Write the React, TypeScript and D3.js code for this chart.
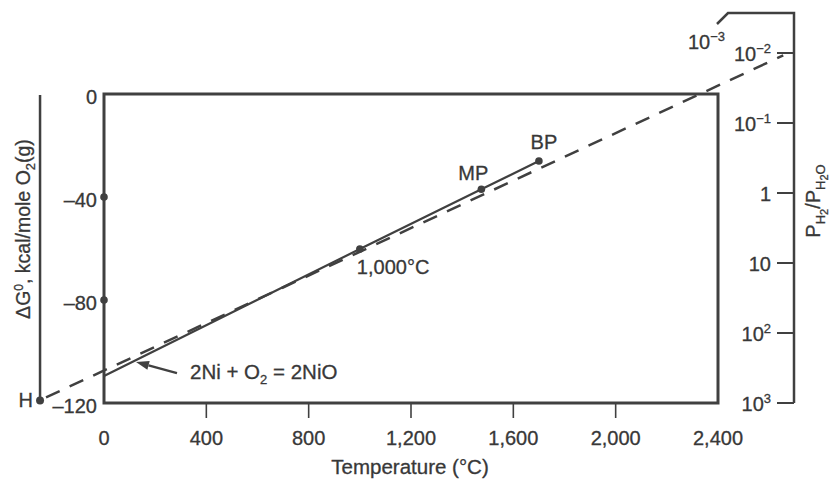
import { useEffect, useRef } from "react";
import * as d3 from "d3";

// temperature axis (°C)
const tempTicks = [0, 400, 800, 1200, 1600, 2000, 2400];
const tempTickLabels = ["0", "400", "800", "1,200", "1,600", "2,000", "2,400"];

// free energy axis (kcal/mole O2)
const dgTicks = [0, -40, -80, -120];
const dgDots = [-40, -80];

// P_H2 / P_H2O nomograph scale
const ratioTicks = [1e-2, 1e-1, 1, 10, 100, 1000];
const ratioBase = ["10", "10", "1", "10", "10", "10"];
const ratioExp = ["−2", "−1", "", "", "2", "3"];

// 2Ni + O2 = 2NiO
const niLine = [
  { t: 0, g: -109.5 },
  { t: 1000, g: -60.2 },
  { t: 1475, g: -37 },
  { t: 1700, g: -26 },
];
const markers = [
  { t: 1000, g: -60.2, label: "1,000°C" },
  { t: 1475, g: -37, label: "MP" },
  { t: 1700, g: -26, label: "BP" },
];

// H point (0 K) and the line drawn from it to the ratio scale
const hPoint = { t: -250, g: -119 };
const nomoEnd = { t: 2655, g: 15 };

const INK = "#404040";
const TEXT = "#383838";
const FONT = "'Liberation Sans', Arial, Helvetica, sans-serif";

const NiOChart = () => {
  const svgRef = useRef<SVGSVGElement>(null);

  useEffect(() => {
    const WIDTH = 829;
    const HEIGHT = 479;
    const BOX = { left: 104, right: 718, top: 94, bottom: 403 };

    const x = d3.scaleLinear().domain([0, 2400]).range([BOX.left, BOX.right]);
    const y = d3.scaleLinear().domain([-120, 0]).range([BOX.bottom, BOX.top]);
    const r = d3.scaleLog().domain([1e-2, 1e3]).range([53, 403]);

    const svg = d3
      .select(svgRef.current)
      .attr("width", WIDTH)
      .attr("height", HEIGHT)
      .style("font-family", FONT);

    svg.selectAll("*").remove();
    svg.append("rect").attr("width", WIDTH).attr("height", HEIGHT).attr("fill", "#fff");

    const chart = svg.append("g");
    // text is a touch heavier in the scan
    const txt = chart.append("g").attr("fill", TEXT).attr("stroke", TEXT).attr("stroke-width", 0.3);

    // plot frame
    chart
      .append("rect")
      .attr("x", BOX.left)
      .attr("y", BOX.top)
      .attr("width", BOX.right - BOX.left)
      .attr("height", BOX.bottom - BOX.top)
      .attr("fill", "none")
      .attr("stroke", INK)
      .attr("stroke-width", 3);

    // bottom ticks (outside the frame, none at the corners)
    chart
      .selectAll(".xtick")
      .data(tempTicks.filter((t) => t > 0 && t < 2400))
      .enter()
      .append("line")
      .attr("x1", (d) => x(d))
      .attr("x2", (d) => x(d))
      .attr("y1", BOX.bottom)
      .attr("y2", BOX.bottom + 15)
      .attr("stroke", INK)
      .attr("stroke-width", 1.6);

    txt
      .selectAll(".xlabel")
      .data(tempTicks)
      .enter()
      .append("text")
      .attr("x", (d) => x(d))
      .attr("y", 445)
      .attr("text-anchor", "middle")
      .attr("font-size", 20)
      .text((d, i) => tempTickLabels[i]);

    txt
      .append("text")
      .attr("x", 410)
      .attr("y", 474)
      .attr("text-anchor", "middle")
      .attr("font-size", 20.5)
      .text("Temperature (°C)");

    // left labels and dots
    txt
      .selectAll(".ylabel")
      .data(dgTicks)
      .enter()
      .append("text")
      .attr("x", 97)
      .attr("y", (d) => y(d) + 10)
      .attr("text-anchor", "end")
      .attr("font-size", 20)
      .text((d) => (d < 0 ? "–" + Math.abs(d) : String(d)));

    chart
      .selectAll(".ydot")
      .data(dgDots)
      .enter()
      .append("circle")
      .attr("cx", BOX.left)
      .attr("cy", (d) => y(d))
      .attr("r", 3.8)
      .attr("fill", INK);

    // H scale line
    chart
      .append("line")
      .attr("x1", x(hPoint.t))
      .attr("x2", x(hPoint.t))
      .attr("y1", y(0) + 1)
      .attr("y2", y(hPoint.g))
      .attr("stroke", INK)
      .attr("stroke-width", 2.5);

    chart
      .append("circle")
      .attr("cx", x(hPoint.t))
      .attr("cy", y(hPoint.g))
      .attr("r", 4)
      .attr("fill", INK);

    txt
      .append("text")
      .attr("x", x(hPoint.t) - 7)
      .attr("y", y(hPoint.g) + 7)
      .attr("text-anchor", "end")
      .attr("font-size", 20)
      .text("H");

    const leftTitle = txt
      .append("text")
      .attr("transform", "translate(30,229) rotate(-90)")
      .attr("text-anchor", "middle")
      .attr("font-size", 19.5);
    leftTitle.append("tspan").text("ΔG");
    leftTitle.append("tspan").attr("font-size", 12).attr("dy", -7).text("0");
    leftTitle.append("tspan").attr("dy", 7).text(", kcal/mole O");
    leftTitle.append("tspan").attr("font-size", 13).attr("dy", 5).text("2");
    leftTitle.append("tspan").attr("dy", -5).text("(g)");

    // right ratio scale
    const RX = 794;
    chart
      .append("path")
      .attr("d", `M${717},${24} L${728},${13} L${RX},${13} L${RX},${r(1000)}`)
      .attr("fill", "none")
      .attr("stroke", INK)
      .attr("stroke-width", 2.5);

    chart
      .selectAll(".rtick")
      .data(ratioTicks)
      .enter()
      .append("line")
      .attr("x1", RX - 17)
      .attr("x2", RX)
      .attr("y1", (d) => r(d))
      .attr("y2", (d) => r(d))
      .attr("stroke", INK)
      .attr("stroke-width", 2);

    ratioTicks.forEach((d, i) => {
      const label = txt
        .append("text")
        .attr("x", 771)
        .attr("y", r(d) + 8)
        .attr("text-anchor", "end")
        .attr("font-size", 20);
      label.append("tspan").text(ratioBase[i]);
      if (ratioExp[i]) {
        label.append("tspan").attr("font-size", 13).attr("dy", -8).text(ratioExp[i]);
      }
    });

    const topLabel = txt.append("text").attr("x", 688).attr("y", 49).attr("font-size", 20);
    topLabel.append("tspan").text("10");
    topLabel.append("tspan").attr("font-size", 13).attr("dy", -8).text("−3");

    const rightTitle = txt
      .append("text")
      .attr("transform", "translate(820,201) rotate(-90)")
      .attr("text-anchor", "middle")
      .attr("font-size", 20);
    rightTitle.append("tspan").text("P");
    rightTitle.append("tspan").attr("font-size", 13).attr("dy", 5).text("H");
    rightTitle.append("tspan").attr("font-size", 11).attr("dy", 3).text("2");
    rightTitle.append("tspan").attr("dy", -8).text("/P");
    rightTitle.append("tspan").attr("font-size", 13).attr("dy", 5).text("H");
    rightTitle.append("tspan").attr("font-size", 11).attr("dy", 3).text("2");
    rightTitle.append("tspan").attr("font-size", 13).attr("dy", -3).text("O");

    // dashed nomograph line from H
    chart
      .append("line")
      .attr("x1", x(hPoint.t) + 6)
      .attr("y1", y(hPoint.g) - 3)
      .attr("x2", x(nomoEnd.t))
      .attr("y2", y(nomoEnd.g))
      .attr("stroke", INK)
      .attr("stroke-width", 2.5)
      .attr("stroke-dasharray", "15 11");

    // the Ni / NiO line
    const line = d3
      .line<{ t: number; g: number }>()
      .x((d) => x(d.t))
      .y((d) => y(d.g));

    chart
      .append("path")
      .datum(niLine)
      .attr("d", line)
      .attr("fill", "none")
      .attr("stroke", INK)
      .attr("stroke-width", 2.2);

    chart
      .selectAll(".marker")
      .data(markers)
      .enter()
      .append("circle")
      .attr("cx", (d) => x(d.t))
      .attr("cy", (d) => y(d.g))
      .attr("r", 3.8)
      .attr("fill", INK);

    const labelOffsets: Record<string, [number, number, string]> = {
      "1,000°C": [-3, 25, "start"],
      MP: [-8, -9, "middle"],
      BP: [5, -12, "middle"],
    };

    txt
      .selectAll(".mlabel")
      .data(markers)
      .enter()
      .append("text")
      .attr("x", (d) => x(d.t) + labelOffsets[d.label][0])
      .attr("y", (d) => y(d.g) + labelOffsets[d.label][1])
      .attr("text-anchor", (d) => labelOffsets[d.label][2])
      .attr("font-size", 20)
      .text((d) => d.label);

    // reaction annotation with arrow
    const tipT = 125;
    const tipX = x(tipT);
    const tipY = y(d3.interpolateNumber(niLine[0].g, niLine[1].g)(tipT / 1000)) + 2;
    const tailX = tipX + 41;
    const tailY = tipY + 11;
    const ang = Math.atan2(tailY - tipY, tailX - tipX);
    const headLen = 13;
    const headW = 4.5;
    const bx = tipX + headLen * Math.cos(ang);
    const by = tipY + headLen * Math.sin(ang);

    chart
      .append("line")
      .attr("x1", bx)
      .attr("y1", by)
      .attr("x2", tailX)
      .attr("y2", tailY)
      .attr("stroke", INK)
      .attr("stroke-width", 2.4);

    chart
      .append("path")
      .attr(
        "d",
        `M${tipX},${tipY} L${bx - headW * Math.sin(ang)},${by + headW * Math.cos(ang)} L${
          bx + headW * Math.sin(ang)
        },${by - headW * Math.cos(ang)} Z`
      )
      .attr("fill", INK);

    const reaction = txt.append("text").attr("x", 190).attr("y", 379).attr("font-size", 20.5);
    reaction.append("tspan").text("2Ni + O");
    reaction.append("tspan").attr("font-size", 13).attr("dy", 5).text("2");
    reaction.append("tspan").attr("dy", -5).text(" = 2NiO");
  }, []);

  return <svg ref={svgRef} style={{ position: "absolute", left: 0, top: 0 }} />;
};

export default function App() {
  return <NiOChart />;
}
